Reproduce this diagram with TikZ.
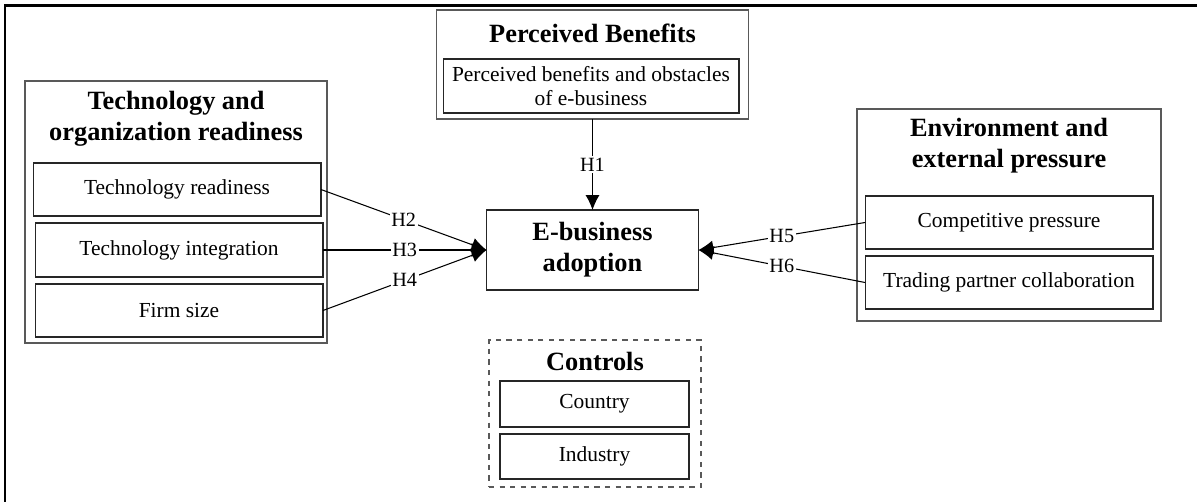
\documentclass[tikz,border=0pt]{standalone}
\usepackage{fontspec}
\setmainfont{Liberation Serif}
\usetikzlibrary{positioning, calc, arrows.meta}

\begin{document}
\begin{tikzpicture}[x=0.02cm, y=-0.02cm,
                    group/.style={draw=black!65, line width=0.8pt, inner sep=0pt, outer sep=0pt},
                    item/.style={draw=black!85, line width=0.6pt, inner sep=0pt, outer sep=0pt,
                                 minimum width=5.76cm, minimum height=1.06cm, align=center,
                                 font=\fontsize{12.2}{13.8}\selectfont},
                    head/.style={align=center, font=\fontsize{15}{17.6}\selectfont\bfseries},
                    hyp/.style={fill=white, inner sep=1pt, font=\fontsize{11.5}{13}\selectfont},
                    link/.style={line width=0.6pt, -{Latex[length=8.5pt,width=8pt]}}]
                    \useasboundingbox (0,0) rectangle (1197,501);
                    \clip (0,0) rectangle (1197,501);
                    \draw[line width=1.3pt] (5,5.5) rectangle (1230,530);

                    \node[group, minimum width=6.04cm, minimum height=5.24cm] (org) at (176,212) {};
                    \node[head] (orgtitle) at (176,119) {Technology and\\organization readiness};
                    \node[item] (techready) at (177,189.5) {Technology readiness};
                    \node[item, minimum height=1.08cm] (techint) at (179,250) {Technology integration};
                    \node[item] (firmsize) at (179,310.5) {Firm size};

                    \node[group, minimum width=6.24cm, minimum height=2.18cm] (benefits) at (592.5,64.5) {};
                    \node[head] (benefitstitle) at (592.5,33) {Perceived Benefits};
                    \node[item, minimum width=5.92cm, minimum height=1.08cm] (obstacles) at (591,86) {Perceived benefits and obstacles\\of e-business};

                    \node[item, minimum width=4.24cm, minimum height=1.6cm, font=\fontsize{15}{17.6}\selectfont\bfseries] (adoption) at (592.5,250) {E-business\\adoption};

                    \node[group, minimum width=6.08cm, minimum height=4.24cm] (env) at (1009,215) {};
                    \node[head] (envtitle) at (1009,146) {Environment and\\external pressure};
                    \node[item] (competitive) at (1009,222.5) {Competitive pressure};
                    \node[item] (partner) at (1009,282.5) {Trading partner collaboration};

                    \node[group, dashed, minimum width=4.24cm, minimum height=2.94cm] (controls) at (595,413.5) {};
                    \node[head] (controlstitle) at (595,361) {Controls};
                    \node[item, minimum width=3.78cm, minimum height=0.92cm] (country) at (594.5,404) {Country};
                    \node[item, minimum width=3.78cm, minimum height=0.9cm] (industry) at (594.5,456.5) {Industry};

                    \draw[link] (benefits.south) -- node[hyp] {H1} (adoption.north);
                    \draw[link] (techready.east) -- node[hyp] {H2} (adoption.west);
                    \draw[link] (techint.east) -- node[hyp] {H3} (adoption.west);
                    \draw[link] (firmsize.east) -- node[hyp] {H4} (adoption.west);
                    \draw[link] (competitive.west) -- node[hyp] {H5} (adoption.east);
                    \draw[link] (partner.west) -- node[hyp] {H6} (adoption.east);
                \end{tikzpicture}
\end{document}
